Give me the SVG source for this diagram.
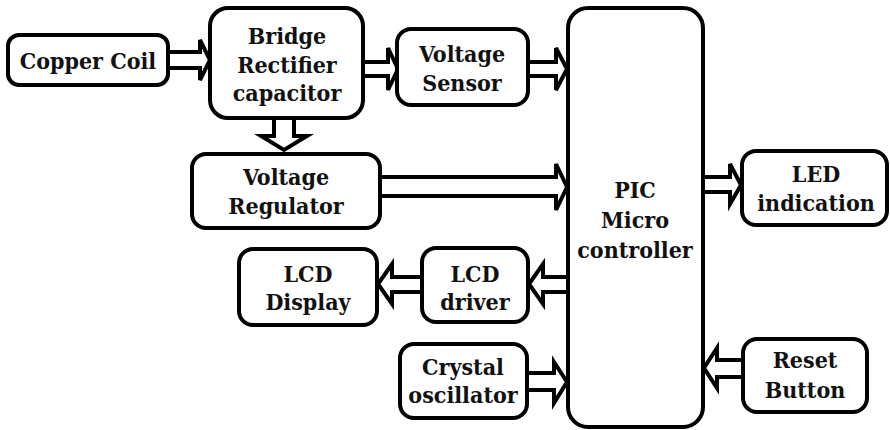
<svg xmlns="http://www.w3.org/2000/svg" width="890" height="430" viewBox="0 0 890 430">
<style>
.box{fill:#fff;stroke:#000;stroke-width:4}
text{font-family:'DejaVu Serif Condensed','DejaVu Serif',serif;font-stretch:condensed;font-weight:700;font-size:23px;fill:#111;text-anchor:middle}
.ar{fill:#fff;stroke:#000;stroke-width:4;stroke-linejoin:miter}
</style>
<rect width="890" height="430" fill="#fff"/>
<g id="connectors">
<path class="ar" d="M168,52 H200 V40 L210,60 L200,80 V68 H168"/>
<path class="ar" d="M363,62 H388 V48 L398,69 L388,90 V76 H363"/>
<path class="ar" d="M528,62 H556 V48 L567,69 L556,90 V76 H528"/>
<path class="ar" d="M274,118 V136 H261 L284,150 L307,136 H294 V118"/>
<path class="ar" d="M380,177 H556 V164 L567,187 L556,210 V196 H380"/>
<path class="ar" d="M703,177 H730 V164 L741,185 L730,204 V192 H703"/>
<path class="ar" d="M568,277 H543 V264 L529,284 L543,304 V292 H568"/>
<path class="ar" d="M422,277 H392 V264 L378,284 L392,304 V292 H422"/>
<path class="ar" d="M527,373 H554 V362 L567,382 L554,403 V390 H527"/>
<path class="ar" d="M743,360 H717 V348 L704,368 L717,388 V377 H743"/>
</g>
<g id="copper"><rect class="box" x="8" y="35" width="160" height="50" rx="11"/><text x="88" y="69">Copper Coil</text></g>
<g id="bridge"><rect class="box" x="210" y="8" width="153" height="110" rx="18"/><text x="287" y="44">Bridge</text><text x="287" y="73">Rectifier</text><text x="287" y="101">capacitor</text></g>
<g id="vsensor"><rect class="box" x="397" y="29" width="131" height="76" rx="14"/><text x="462" y="62">Voltage</text><text x="462" y="91">Sensor</text></g>
<g id="vreg"><rect class="box" x="192" y="154" width="188" height="74" rx="14"/><text x="286" y="185">Voltage</text><text x="286" y="214">Regulator</text></g>
<g id="pic"><rect class="box" x="568" y="8" width="135" height="419" rx="20"/><text x="635" y="198">PIC</text><text x="635" y="228">Micro</text><text x="635" y="258">controller</text></g>
<g id="led"><rect class="box" x="742" y="151" width="145" height="74" rx="14"/><text x="816" y="182">LED</text><text x="816" y="211">indication</text></g>
<g id="lcddisplay"><rect class="box" x="239" y="249" width="138" height="76" rx="14"/><text x="308" y="282">LCD</text><text x="308" y="310">Display</text></g>
<g id="lcddriver"><rect class="box" x="422" y="248" width="106" height="74" rx="14"/><text x="475" y="282">LCD</text><text x="475" y="310">driver</text></g>
<g id="crystal"><rect class="box" x="400" y="344" width="127" height="74" rx="14"/><text x="463" y="375">Crystal</text><text x="463" y="403">oscillator</text></g>
<g id="reset"><rect class="box" x="743" y="339" width="124" height="73" rx="14"/><text x="805" y="368">Reset</text><text x="805" y="398">Button</text></g>
</svg>
